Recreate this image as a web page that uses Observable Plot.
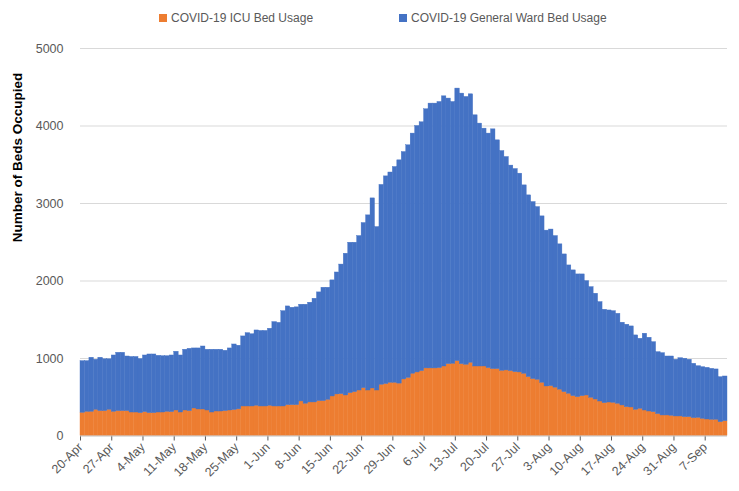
<!DOCTYPE html>
<html><head><meta charset="utf-8">
<script src="https://cdn.jsdelivr.net/npm/d3@7"></script>
<script src="https://cdn.jsdelivr.net/npm/@observablehq/plot@0.6"></script>
<style>
body{margin:0;background:#fff;font-family:"Liberation Sans",Arial,sans-serif;}
#legend{height:36px;position:relative;font-size:12px;color:#595959;}
.item{position:absolute;top:11px;display:flex;align-items:center;white-space:nowrap;}
.sw{display:inline-block;width:8px;height:8px;margin-right:4px;}
#chart svg g[aria-label="x-axis"] line{stroke:#bfbfbf;}
</style></head><body>
<div id="legend">
<div class="item" style="left:159px"><span class="sw" style="background:#ED7D31"></span>COVID-19 ICU Bed Usage</div>
<div class="item" style="left:399px"><span class="sw" style="background:#4472C4"></span>COVID-19 General Ward Bed Usage</div>
</div>
<div id="chart"></div>
<script>
const startDate = "2020-04-20";
const seriesNames = ["COVID-19 ICU Bed Usage", "COVID-19 General Ward Bed Usage"];
const tickLabels = ["20-Apr","27-Apr","4-May","11-May","18-May","25-May","1-Jun","8-Jun","15-Jun","22-Jun","29-Jun","6-Jul","13-Jul","20-Jul","27-Jul","3-Aug","10-Aug","17-Aug","24-Aug","31-Aug","7-Sep"];
const yTicks = [0,1000,2000,3000,4000,5000];

const icu = [299,312,312,338,321,321,338,312,321,321,321,303,303,295,308,295,295,303,303,312,
308,329,303,329,321,355,342,342,329,303,316,316,321,329,335,344,381,381,381,390,
381,381,390,381,381,381,398,398,398,446,416,433,433,450,450,467,510,536,540,523,
553,566,587,617,587,613,587,661,670,687,687,676,730,749,803,820,837,872,872,872,
876,897,927,932,966,927,919,945,897,897,897,876,863,863,841,846,837,824,820,803,
760,734,725,687,639,643,624,598,566,545,514,501,514,523,493,471,445,424,432,428,
416,394,372,368,338,351,329,316,307,282,265,265,260,252,252,243,243,230,234,221,
213,209,209,178,191];

const ward = [667,654,698,646,689,669,652,727,753,753,705,717,717,698,731,757,757,732,727,718,
731,758,736,784,804,775,788,813,784,810,797,797,779,801,846,821,904,946,932,972,
975,975,994,1089,1079,1230,1274,1257,1262,1248,1278,1287,1338,1403,1463,1446,1498,1574,1672,1829,
1941,1928,1993,2131,2260,2453,2109,2579,2680,2713,2784,2881,2934,3002,3099,3180,3211,3344,3417,3417,
3434,3486,3427,3378,3517,3491,3456,3464,3241,3134,3069,3026,3094,2952,2836,2754,2652,2621,2565,2431,
2345,2285,2229,2147,2011,2021,1956,1875,1777,1656,1623,1584,1571,1476,1428,1365,1283,1205,1188,1183,
1161,1068,1064,1046,960,904,991,952,904,800,804,761,766,732,752,754,741,702,667,667,
667,658,650,581,577];

const start = new Date(startDate + "T00:00:00Z");
const rows = [];
[icu, ward].forEach((vals, s) => vals.forEach((v, i) => rows.push({
  x1: d3.utcDay.offset(start, i), x2: d3.utcDay.offset(start, i + 1), series: seriesNames[s], value: v
})));
const tickDates = tickLabels.map((_, k) => d3.utcDay.offset(start, 7 * k));
const labelByTime = new Map(tickDates.map((d, k) => [+d, tickLabels[k]]));

const chart = Plot.plot({
  width: 739, height: 455,
  marginTop: 12, marginBottom: 55.5, marginLeft: 80, marginRight: 12,
  style: {fontFamily: "'Liberation Sans', Arial, sans-serif", fontSize: "12.5px", color: "#595959", background: "#fff"},
  x: {type: "utc", domain: [start, d3.utcDay.offset(start, icu.length)], ticks: tickDates,
      tickFormat: d => labelByTime.get(+d), tickRotate: -45, tickSize: 5, tickPadding: 4, label: null},
  y: {domain: [0, 5000], ticks: yTicks, tickFormat: d => String(d), tickSize: 0, tickPadding: 17, label: null},
  color: {domain: seriesNames, range: ["#ED7D31", "#4472C4"]},
  marks: [
    Plot.ruleY(yTicks.slice(1), {stroke: "#d9d9d9", strokeWidth: 1}),
    Plot.rectY(rows, {x1: "x1", x2: "x2", y: "value", z: "series", fill: "series", stroke: "series", strokeWidth: 0.4, inset: 0}),
    Plot.ruleY([0], {stroke: "#bfbfbf"}),
    Plot.text(["Number of Beds Occupied"], {frameAnchor: "left", rotate: -90, dx: -63, fontWeight: "bold", fontSize: 13.5, fill: "#000"})
  ]
});
document.getElementById("chart").appendChild(chart);
</script>
</body></html>
